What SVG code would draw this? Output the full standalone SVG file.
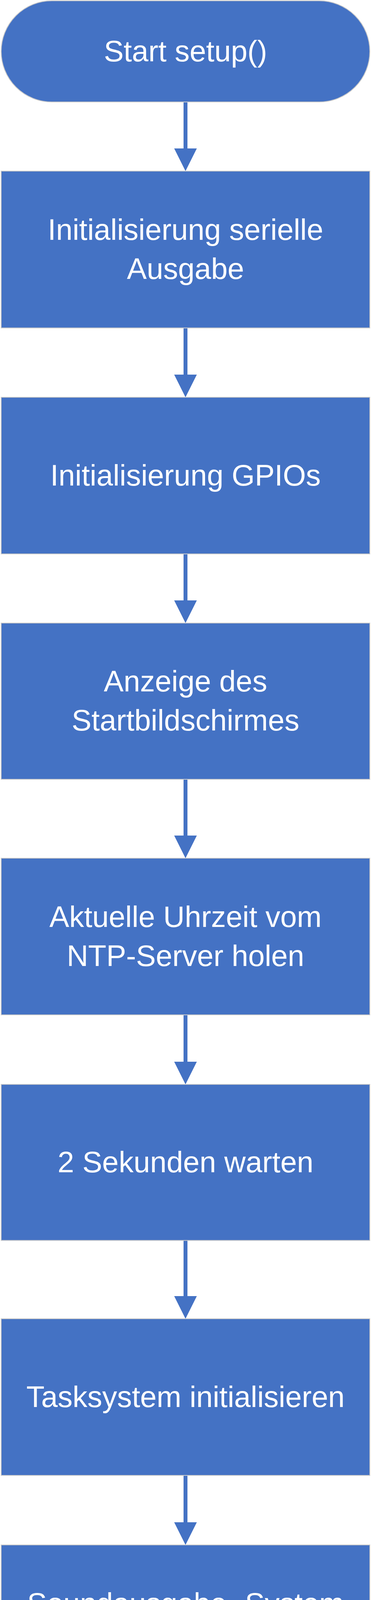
<svg xmlns="http://www.w3.org/2000/svg" width="950" height="4819" viewBox="0 0 950 4819">
<style>
.shape{fill:#4472C4;stroke:#C9C9C9;stroke-width:2}
.lbl{font-family:"Liberation Sans",Arial,sans-serif;font-size:76px;fill:#FFFFFF;text-anchor:middle}
.conn{stroke:#4472C4;stroke-width:10;fill:none;marker-end:url(#arrow)}
</style>
<defs>
<marker id="arrow" viewBox="0 0 58 58" markerWidth="58" markerHeight="58" refX="18" refY="29" orient="auto" markerUnits="userSpaceOnUse">
<path d="M0,0 L58,29 L0,58 z" fill="#4472C4"/>
</marker>
</defs>
<rect width="950" height="4819" fill="#FFFFFF"/>
<g id="connectors">
<path class="conn" d="M475,261 V398"/>
<path class="conn" d="M475,839.5 V977"/>
<path class="conn" d="M475,1418 V1555"/>
<path class="conn" d="M475,1995 V2157"/>
<path class="conn" d="M475,2598 V2736"/>
<path class="conn" d="M475,3175.5 V3336"/>
<path class="conn" d="M475,3777 V3915"/>
<path class="conn" d="M475,4356 V4517"/>
</g>
<g id="start">
<rect class="shape" x="3" y="2" width="944" height="259" rx="129.5" ry="129.5"/>
<text class="lbl" x="475" y="156.5">Start setup()</text>
</g>
<g id="serial">
<rect class="shape" x="3" y="438" width="944" height="401.5"/>
<text class="lbl" x="475" y="613.75">Initialisierung serielle</text>
<text class="lbl" x="475" y="713.75">Ausgabe</text>
</g>
<g id="gpio">
<rect class="shape" x="3" y="1017" width="944" height="401"/>
<text class="lbl" x="475" y="1242.5">Initialisierung GPIOs</text>
</g>
<g id="startscreen">
<rect class="shape" x="3" y="1595" width="944" height="400"/>
<text class="lbl" x="475" y="1770">Anzeige des</text>
<text class="lbl" x="475" y="1870">Startbildschirmes</text>
</g>
<g id="ntp">
<rect class="shape" x="3" y="2197" width="944" height="401"/>
<text class="lbl" x="475" y="2372.5">Aktuelle Uhrzeit vom</text>
<text class="lbl" x="475" y="2472.5">NTP-Server holen</text>
</g>
<g id="wait">
<rect class="shape" x="3" y="2776" width="944" height="399.5"/>
<text class="lbl" x="475" y="3000.75">2 Sekunden warten</text>
</g>
<g id="tasks">
<rect class="shape" x="3" y="3376" width="944" height="401"/>
<text class="lbl" x="475" y="3601.5">Tasksystem initialisieren</text>
</g>
<g id="sound">
<rect class="shape" x="3" y="3955" width="944" height="401"/>
<text class="lbl" x="475" y="4130.5">Soundausgabe „System</text>
<text class="lbl" x="475" y="4230.5">ist gestartet“ anstossen</text>
</g>
<g id="end">
<rect class="shape" x="3" y="4557" width="944" height="260" rx="130" ry="130"/>
<text class="lbl" x="475" y="4712">Ende setup()</text>
</g>
</svg>
